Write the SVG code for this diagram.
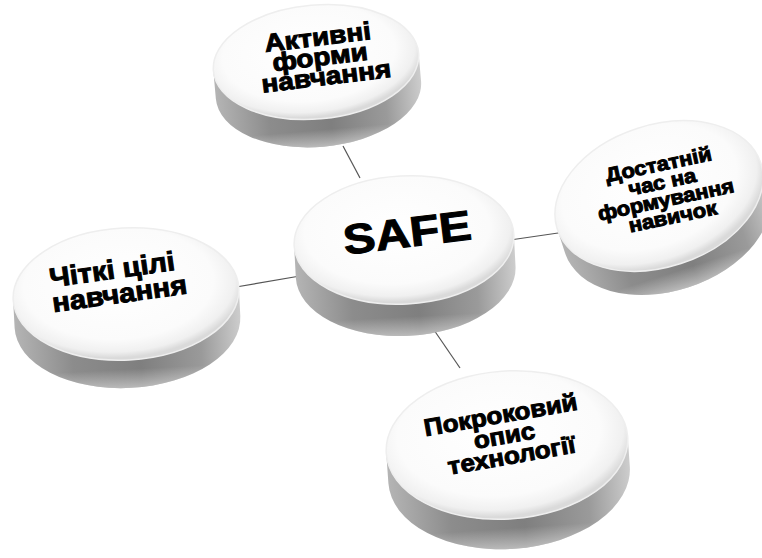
<svg xmlns="http://www.w3.org/2000/svg" width="762" height="558" viewBox="0 0 762 558">
  <defs>
    <radialGradient id="faceGrad" cx="0.47" cy="0.42" r="0.56">
      <stop offset="0" stop-color="#ffffff"/>
      <stop offset="0.75" stop-color="#fbfbfb"/>
      <stop offset="0.92" stop-color="#f0f0f0"/>
      <stop offset="1" stop-color="#dadada"/>
    </radialGradient>
    <linearGradient id="sideGrad" x1="0" y1="0" x2="1" y2="0">
      <stop offset="0" stop-color="#b4b4b4"/>
      <stop offset="0.25" stop-color="#8c8c8c"/>
      <stop offset="0.55" stop-color="#7f7f7f"/>
      <stop offset="0.82" stop-color="#9a9a9a"/>
      <stop offset="1" stop-color="#cdcdcd"/>
    </linearGradient>
    <linearGradient id="sideFade" x1="0" y1="0" x2="0" y2="1">
      <stop offset="0" stop-color="#ffffff" stop-opacity="0"/>
      <stop offset="0.8" stop-color="#ffffff" stop-opacity="0"/>
      <stop offset="1" stop-color="#ffffff" stop-opacity="0.45"/>
    </linearGradient>
  </defs>
  <style>
    .side { fill: url(#sideGrad); }
    .fade { fill: url(#sideFade); }
    .face { fill: url(#faceGrad); stroke: #eeeeee; stroke-width: 1.5; }
    .conn { stroke: #555555; stroke-width: 1.2; fill: none; }
    .lbl { font-family: "Liberation Sans", Arial, sans-serif; font-weight: bold; fill: #000; stroke: #000; stroke-width: 1; text-anchor: middle; }
  </style>
  <rect width="762" height="558" fill="#ffffff"/>

  <g id="connectors">
    <line class="conn" x1="343" y1="146" x2="360" y2="178"/>
    <line class="conn" x1="510" y1="240" x2="565" y2="232"/>
    <line class="conn" x1="236" y1="287" x2="300" y2="276"/>
    <line class="conn" x1="434" y1="330" x2="460" y2="368"/>
  </g>

  <g id="node-top">
    <g transform="translate(316,62) rotate(-5)">
      <path class="side" d="M-103 0 A103 57 0 0 0 103 0 L103 28 A103 57 0 0 1 -103 28 Z"/>
      <path class="fade" d="M-103 0 A103 57 0 0 0 103 0 L103 28 A103 57 0 0 1 -103 28 Z"/>
      <ellipse class="face" cx="0" cy="0" rx="103" ry="57"/>
    </g>
    <text class="lbl" font-size="25" transform="translate(324,58) rotate(-7) scale(1.12,1)">
      <tspan x="0" y="-13">Активні</tspan>
      <tspan x="0" y="7">форми</tspan>
      <tspan x="0" y="27">навчання</tspan>
    </text>
  </g>

  <g id="node-right">
    <g transform="translate(659,196) rotate(-18)">
      <path class="side" d="M-107 0 A107 71 0 0 0 107 0 L107 25 A107 71 0 0 1 -107 25 Z"/>
      <path class="fade" d="M-107 0 A107 71 0 0 0 107 0 L107 25 A107 71 0 0 1 -107 25 Z"/>
      <ellipse class="face" cx="0" cy="0" rx="107" ry="71"/>
    </g>
    <text class="lbl" font-size="20" transform="translate(667,190) rotate(-12) scale(1.1,1)">
      <tspan x="0" y="-20">Достатній</tspan>
      <tspan x="0" y="-2">час на</tspan>
      <tspan x="0" y="16">формування</tspan>
      <tspan x="0" y="34">навичок</tspan>
    </text>
  </g>

  <g id="node-left">
    <g transform="translate(126,294) rotate(-3)">
      <path class="side" d="M-113 0 A113 66 0 0 0 113 0 L113 28 A113 66 0 0 1 -113 28 Z"/>
      <path class="fade" d="M-113 0 A113 66 0 0 0 113 0 L113 28 A113 66 0 0 1 -113 28 Z"/>
      <ellipse class="face" cx="0" cy="0" rx="113" ry="66"/>
    </g>
    <text class="lbl" font-size="27" transform="translate(118,283) rotate(-8) scale(1.08,1)">
      <tspan x="0" y="-5">Чіткі цілі</tspan>
      <tspan x="0" y="20">навчання</tspan>
    </text>
  </g>

  <g id="node-bottom">
    <g transform="translate(507,445) rotate(-4)">
      <path class="side" d="M-121 0 A121 74 0 0 0 121 0 L121 30 A121 74 0 0 1 -121 30 Z"/>
      <path class="fade" d="M-121 0 A121 74 0 0 0 121 0 L121 30 A121 74 0 0 1 -121 30 Z"/>
      <ellipse class="face" cx="0" cy="0" rx="121" ry="74"/>
    </g>
    <text class="lbl" font-size="24" transform="translate(508,436) rotate(-10) scale(1.08,1)">
      <tspan x="0" y="-14">Покроковий</tspan>
      <tspan x="0" y="7">опис</tspan>
      <tspan x="0" y="28">технології</tspan>
    </text>
  </g>

  <g id="node-center">
    <g transform="translate(404,240) rotate(-3)">
      <path class="side" d="M-110 0 A110 64 0 0 0 110 0 L110 32 A110 64 0 0 1 -110 32 Z"/>
      <path class="fade" d="M-110 0 A110 64 0 0 0 110 0 L110 32 A110 64 0 0 1 -110 32 Z"/>
      <ellipse class="face" cx="0" cy="0" rx="110" ry="64"/>
    </g>
    <text class="lbl" font-size="42" transform="translate(407,232) rotate(-7) scale(1.15,1)">
      <tspan x="0" y="15">SAFE</tspan>
    </text>
  </g>
</svg>
